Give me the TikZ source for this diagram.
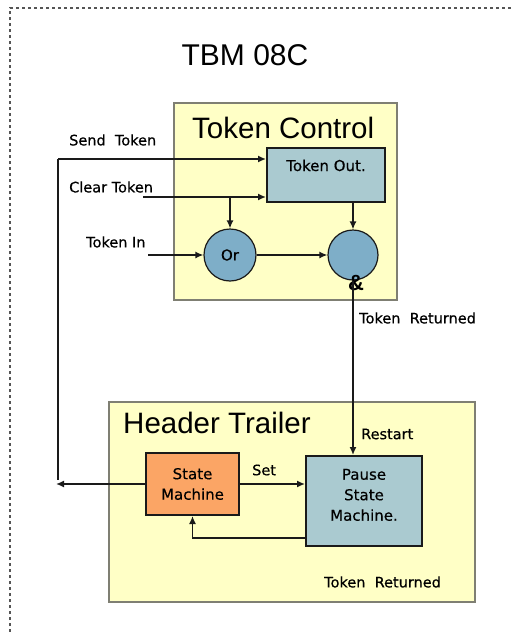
\documentclass[tikz,border=0pt]{standalone}
\usepackage{fontspec}
\setmainfont{Liberation Sans}
\newfontfamily\labelfont[FakeBold=0.4]{DejaVu Sans}
\usetikzlibrary{arrows.meta}
\definecolor{regfill}{HTML}{FFFFC6}
\definecolor{regborder}{HTML}{7F7F73}
\definecolor{tealfill}{HTML}{AACAD0}
\definecolor{gatefill}{HTML}{7EAEC8}
\definecolor{smfill}{HTML}{FBA565}
\definecolor{darkline}{HTML}{1A1A1A}
\definecolor{framegrey}{HTML}{555555}
\tikzset{
  region/.style={rectangle, fill=regfill, draw=regborder, line width=1.6pt},
  regtitle/.style={font=\fontsize{29.5}{32}\selectfont, text=black, inner sep=0pt, anchor=west},
  block/.style={rectangle, draw=darkline, line width=2pt, align=center, font=\labelfont\fontsize{15}{20.5}\selectfont},
  gate/.style={circle, fill=gatefill, draw=darkline, line width=1.2pt, font=\labelfont\fontsize{15}{16}\selectfont},
  sig/.style={font=\labelfont\fontsize{14.5}{16}\selectfont, inner sep=0pt, anchor=west},
  wire/.style={line width=1.5pt, draw=darkline},
  flow/.style={-{Latex[length=8pt,width=7pt]}, line width=1.5pt, draw=darkline},
}
\begin{document}
\begin{tikzpicture}[x=1pt, y=-1pt]
\useasboundingbox (0,0) rectangle (511,632);

% ===== Frame and title =====
\draw[framegrey, line width=1.2pt, dashed] (10,632) -- (10,8) -- (511,8);
\node[font=\fontsize{30}{33}\selectfont, inner sep=0pt] (title) at (245,55) {TBM 08C};

% ===== Regions =====
\node[region, minimum width=223pt, minimum height=197pt] (regTC) at (285.5,201.5) {};
\node[regtitle] (tcTitle) at (192,128) {Token Control};
\node[region, minimum width=366pt, minimum height=200pt] (regHT) at (292,502) {};
\node[regtitle] (htTitle) at (123,423) {Header Trailer};

% ===== Token control =====
\node[block, fill=tealfill, minimum width=118pt, text height=11pt, text depth=19pt, inner ysep=12pt] (tokout) at (326,175) {Token Out.};
\node[gate, minimum size=52pt] (or) at (230,255) {Or};
\node[gate, minimum size=50pt] (and) at (353,255) {};
\node[font=\bfseries\fontsize{22}{24}\selectfont, inner sep=0pt] (amp) at (356,283) {\&};

\coordinate (sendL) at (58,159);
\coordinate (sendB) at (58,480);
\coordinate (clearL) at (143,197);
\coordinate (inL) at (148,255);
\coordinate (leftout) at (56,486);

\node[sig] (sendLbl) at (69,140) {Send\ \ Token};
\node[sig] (clearLbl) at (69,187) {Clear Token};
\node[sig] (inLbl) at (86,242) {Token In};
\node[sig] (retLbl) at (359,318) {Token\ \ Returned};

% ===== Header trailer =====
\node[block, fill=smfill, minimum width=93pt, minimum height=62pt] (sm) at (192.5,484) {State\\Machine};
\node[block, fill=tealfill, minimum width=116pt, minimum height=90pt] (psm) at (364,501) {Pause\\State\\Machine.\\[-8pt]};
\node[sig] (restartLbl) at (361,434) {Restart};
\node[sig] (setLbl) at (252,470) {Set};
\node[sig] (ret2Lbl) at (324,582) {Token\ \ Returned};

% ===== Flow =====
\draw[flow] (sendL) -- (tokout.west |- sendL);
\draw[wire] (sendL) -- (sendB);
\draw[flow] (clearL) -- (tokout.west |- clearL);
\draw[flow] (or.north |- clearL) -- (or.north);
\draw[flow] (inL) -- (or.west);
\draw[flow] (or.east) -- (and.west);
\draw[flow] (and.north |- tokout.south) -- (and.north);
\draw[flow] (and.south) -- (and.south |- psm.north);
\draw[flow] (sm.east) -- (sm.east -| psm.west);
\draw[flow] ([yshift=-37pt]psm.west) -| (sm.south);
\draw[flow] (sm.west) -- (leftout |- sm.west);

\end{tikzpicture}
\end{document}
